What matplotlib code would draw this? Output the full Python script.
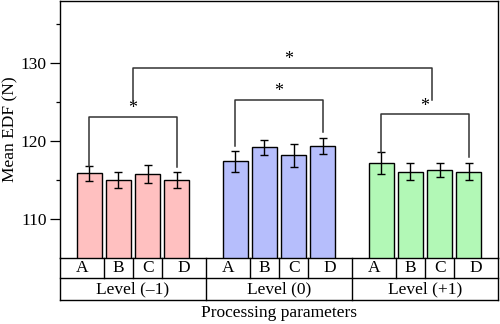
import matplotlib
matplotlib.use("Agg")
import matplotlib.pyplot as plt
import matplotlib.transforms as mtransforms
import numpy as np

plt.rcParams['font.family'] = ['Liberation Serif', 'DejaVu Serif']

# ---- data ----
levels = ["Level (–1)", "Level (0)", "Level (+1)"]
params = ["A", "B", "C", "D"]
means_m1 = [115.9, 115.0, 115.8, 115.0]
errs_m1 = [0.95, 1.05, 1.2, 1.0]
means_0 = [117.4, 119.2, 118.2, 119.4]
errs_0 = [1.3, 1.0, 1.5, 1.0]
means_p1 = [117.2, 116.1, 116.3, 116.1]
errs_p1 = [1.4, 1.05, 0.85, 1.1]
colors = ["#ffc0c0", "#b6befc", "#b2f8b6"]

# significance brackets: (x_left_bar, x_right_bar, bar height, left leg end, right leg end)
brackets = [
    (0, 3, 123.15, 116.85, 116.7),
    (5, 8, 125.35, 119.35, 121.2),
    (10, 13, 123.45, 118.6, 117.95),
]
top_bracket = (1.5, 11.75, 129.45, 125.0, 125.3)

fig = plt.figure(figsize=(5.0, 3.24), dpi=100)
ax = fig.add_axes([0.12, 0.2037, 0.876, 0.7932])

groups = [(means_m1, errs_m1), (means_0, errs_0), (means_p1, errs_p1)]
width = 0.855
for g, (m, e) in enumerate(groups):
    x = np.arange(4) + g * 5
    ax.bar(x, m, width=width, color=colors[g], edgecolor="black", linewidth=1.0, zorder=2)
    ax.errorbar(x, m, yerr=e, fmt="none", ecolor="black", elinewidth=1.0,
                capsize=2.6, capthick=1.0, zorder=3)

ax.set_xlim(-1, 14)
ax.set_ylim(105, 138)
ax.set_yticks([110, 120, 130])
ax.set_yticks([115, 125, 135], minor=True)
ax.tick_params(axis="y", which="major", length=7, width=0.9, labelsize=12.5, pad=2.5)
ax.tick_params(axis="y", which="minor", length=3, width=0.9)
ax.set_xticks([])
for s in ax.spines.values():
    s.set_linewidth(1.0)

ax.set_ylabel("Mean EDF (N)", fontsize=12.5, va="center")
ax.yaxis.set_label_coords(-0.113, 0.5)

lc = "#333333"
lw = 1.1
star_fs = 13
for (xl, xr, h, el, er) in brackets:
    ax.plot([xl, xl, xr, xr], [el, h, h, er], color=lc, lw=lw, zorder=4)
    ax.text((xl + xr) / 2, h - 0.1, "*", ha="center", va="bottom", fontsize=star_fs)
xl, xr, h, el, er = top_bracket
ax.plot([xl, xl, xr, xr], [el, h, h, er], color=lc, lw=lw, zorder=4)
ax.text((xl + xr) / 2 + 0.2, h - 0.1, "*", ha="center", va="bottom", fontsize=star_fs)

# ---- category table below axes ----
trans = mtransforms.blended_transform_factory(ax.transData, ax.transAxes)
ax_h_px = 0.7932 * 324
r1 = -20.0 / ax_h_px
r2 = -42.0 / ax_h_px
tkw = dict(color="black", lw=1.0, transform=trans, clip_on=False)
ax.plot([-1, 14], [r1, r1], **tkw)
ax.plot([-1, 14], [r2, r2], **tkw)
ax.plot([-1, -1], [0, r2], **tkw)
ax.plot([14, 14], [0, r2], **tkw)
for gx in [4, 9]:
    ax.plot([gx, gx], [0, r2], **tkw)
for g in range(3):
    base = g * 5
    edges = [base - 1, base + 0.5, base + 1.5, base + 2.5, base + 4]
    for d in edges[1:-1]:
        ax.plot([d, d], [0, r1], **tkw)
    for i, p in enumerate(params):
        cx = (edges[i] + edges[i + 1]) / 2
        ax.text(cx, r1 / 2, p, transform=trans, ha="center", va="center", fontsize=12.5)
    ax.text(base + 1.5, (r1 + r2) / 2, levels[g], transform=trans, ha="center",
            va="center", fontsize=12.5)

fig.text(0.558, 1 - 313 / 324, "Processing parameters", ha="center", va="center", fontsize=12.5)

fig.savefig("out.png", dpi=100)
